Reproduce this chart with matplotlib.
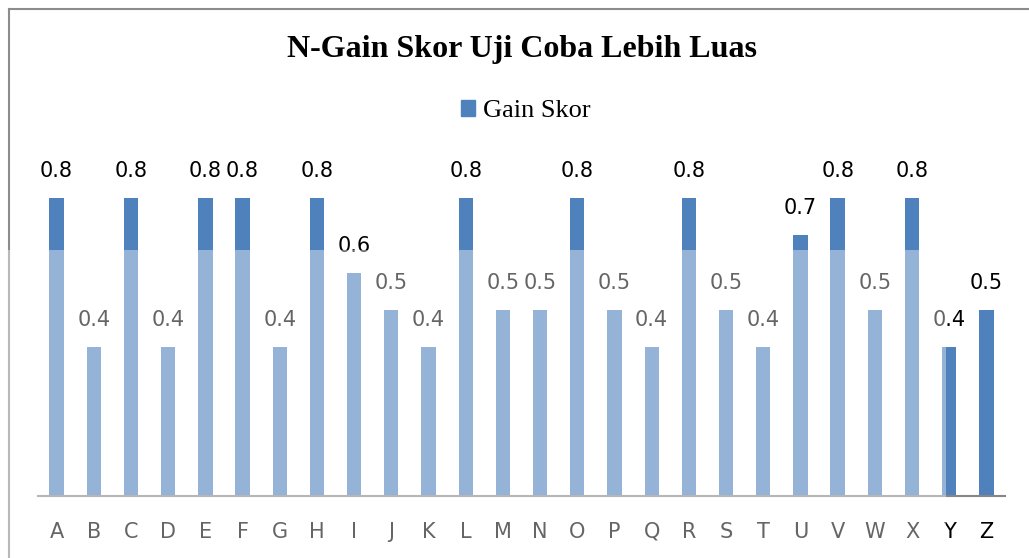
import matplotlib
matplotlib.use("Agg")
import matplotlib.pyplot as plt
from matplotlib.patches import Rectangle
from matplotlib.lines import Line2D

categories = list("ABCDEFGHIJKLMNOPQRSTUVWXYZ")
gain = [0.8, 0.4, 0.8, 0.4, 0.8, 0.8, 0.4, 0.8, 0.6, 0.5, 0.4, 0.8, 0.5,
        0.5, 0.8, 0.5, 0.4, 0.8, 0.5, 0.4, 0.7, 0.8, 0.5, 0.8, 0.4, 0.5]
title = "N-Gain Skor Uji Coba Lebih Luas"
series_name = "Gain Skor"

W, H = 1029, 558
fig = plt.figure(figsize=(W / 100, H / 100), dpi=100)
fig.patch.set_facecolor("white")

ax_l, ax_r = 38, 1005
ax_b, ax_t = 496, 161
ax = fig.add_axes([ax_l / W, (H - ax_b) / H, (ax_r - ax_l) / W, (ax_b - ax_t) / H])
x = list(range(len(categories)))
bars = ax.bar(x, gain, width=0.385, color="#4F81BD", label=series_name, zorder=2)
ax.set_xlim(-0.5, len(categories) - 0.5)
ax.set_ylim(0, 0.9)
for s in ["left", "right", "top"]:
    ax.spines[s].set_visible(False)
ax.spines["bottom"].set_color("#868686")
ax.spines["bottom"].set_linewidth(1.5)
ax.set_yticks([])
ax.set_xticks(x)
ax.set_xticklabels(categories, fontfamily="DejaVu Sans", fontsize=15, color="black")
ax.tick_params(axis="x", length=0, pad=18.5)

for xi, v in zip(x, gain):
    ax.annotate(f"{v:.1f}", (xi, v), xytext=(0, 19.5), textcoords="offset points",
                ha="center", va="center", fontfamily="DejaVu Sans", fontsize=15,
                color="black")

fig.text(522 / W, 1 - 49 / H, title, ha="center", va="center",
         fontfamily="Liberation Serif", fontweight="bold", fontsize=23)

leg = fig.legend(handles=[Rectangle((0, 0), 1, 1, color="#4F81BD")], labels=[series_name],
                 loc="center", bbox_to_anchor=(526 / W, 1 - 111 / H), frameon=False,
                 prop={"family": "Liberation Serif", "size": 19},
                 handlelength=0.55, handleheight=0.55, handletextpad=0.3)

# chart frame
fig.add_artist(Line2D([9 / W, 1], [1 - 9 / H, 1 - 9 / H], transform=fig.transFigure,
                      color="#8c8c8c", lw=1.5))
fig.add_artist(Line2D([9 / W, 9 / W], [0, 1 - 9 / H], transform=fig.transFigure,
                      color="#8c8c8c", lw=1.5))

# faded lower region (as in the scanned page)
fig.add_artist(Rectangle((0, 0), 946 / W, (H - 250) / H, transform=fig.transFigure,
                         facecolor="white", edgecolor="none", alpha=0.4, zorder=10))

fig.savefig("out.png", dpi=100)
